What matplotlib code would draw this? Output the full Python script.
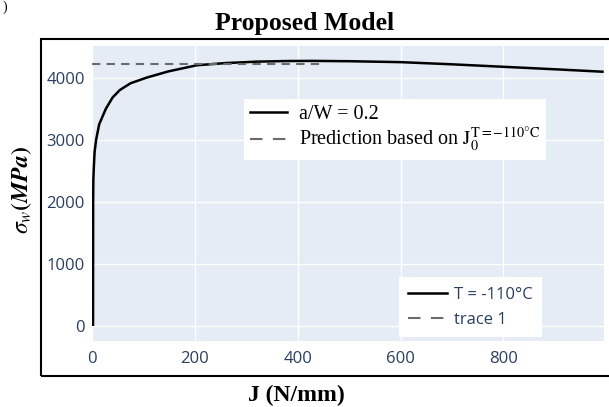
import matplotlib.pyplot as plt
from matplotlib.lines import Line2D
from matplotlib.patches import Rectangle

plt.rcParams['mathtext.fontset'] = 'stix'

# sigma_w vs J curve (T = -110 C)
J = [2, 2.2, 2.6, 3.5, 5, 8, 14, 27, 40, 54, 75, 106, 148, 204, 260,
     320, 380, 430, 500, 600, 700, 800, 900, 995]
sigma_w = [0, 2000, 2350, 2550, 2800, 3000, 3250, 3500, 3680, 3800, 3910,
           4000, 4100, 4200, 4235, 4258, 4268, 4270, 4265, 4250, 4215,
           4175, 4135, 4095]

# prediction from J0 at T = -110 C
pred_J = [0, 450]
pred_sigma = [4215, 4215]

x_ticks = [0, 200, 400, 600, 800]
y_ticks = [0, 1000, 2000, 3000, 4000]

legend1_labels = ['a/W = 0.2',
                  r'Prediction based on $\mathrm{J}_0^{\mathrm{T=-110\degree C}}$']
legend2_labels = ['T = -110°C', 'trace 1']

W, H = 609, 407
fig = plt.figure(figsize=(W / 100, H / 100), dpi=100)
ax = fig.add_axes([91.7 / W, 1 - 341 / H, (603.7 - 91.7) / W, (341 - 46) / H])
ax.set_facecolor('#E5ECF6')

ax.plot(J, sigma_w, color='black', lw=1.8, solid_capstyle='butt')
ax.plot(pred_J, pred_sigma, color='#6a6a6a', lw=1.5, linestyle=(0, (4, 3)))

ax.set_xlim(-0.6, 995)
ax.set_ylim(-242, 4510)
ax.set_xticks(x_ticks)
ax.set_yticks(y_ticks)
ax.grid(True, color='white', lw=1.0)
ax.set_axisbelow(True)
for s in ax.spines.values():
    s.set_visible(False)
ax.tick_params(length=0, labelsize=12, labelcolor='#2a3f5f', pad=5)
for lab in ax.get_xticklabels() + ax.get_yticklabels():
    lab.set_fontfamily('Open Sans')
ax.tick_params(axis='x', pad=7)

# legend handles (dashes a bit longer than on the plotted line)
h1 = Line2D([], [], color='black', lw=1.8)
h2 = Line2D([], [], color='#6a6a6a', lw=1.5, linestyle=(0, (6, 5)))

# legend of the plot itself (lower right)
leg2 = ax.legend([h1, h2], legend2_labels, loc='upper left',
                 bbox_to_anchor=(399 / W, 1 - 277.3 / H), bbox_transform=fig.transFigure,
                 borderaxespad=0, frameon=True, fancybox=False, framealpha=1,
                 facecolor='white', edgecolor='none', borderpad=0.56,
                 labelspacing=0.55, handlelength=2.3, handletextpad=0.42,
                 prop={'family': 'Open Sans', 'size': 12})
for t in leg2.get_texts():
    t.set_color('#2a3f5f')
ax.add_artist(leg2)

# annotation legend (upper middle)
leg1 = ax.legend([h1, h2], legend1_labels, loc='upper left',
                 bbox_to_anchor=(244 / W, 1 - 99 / H), bbox_transform=fig.transFigure,
                 borderaxespad=0, frameon=True, fancybox=False, framealpha=1,
                 facecolor='white', edgecolor='none', borderpad=0.28,
                 labelspacing=0.12, handlelength=1.85, handletextpad=0.62,
                 prop={'family': 'Liberation Serif', 'size': 14.5})

# outer frame around the plotting region
fig.patches.append(Rectangle((41 / W, 1 - 376.3 / H), (620 - 41) / W, (376.3 - 39.3) / H,
                             transform=fig.transFigure, fill=False,
                             edgecolor='black', lw=1.5))

fig.text(305 / W, 1 - 30 / H, 'Proposed Model', ha='center', va='baseline',
         family='Liberation Serif', weight='bold', size=18.5)
fig.text(296.5 / W, 1 - 401 / H, 'J (N/mm)', ha='center', va='baseline',
         family='Liberation Serif', weight='bold', size=17)
fig.text(22 / W, 1 - 190 / H, r'$\boldsymbol{\sigma_w (MPa)}$', ha='center', va='center',
         rotation=90, size=17)
fig.text(5 / W, 1 - 1 / H, ')', ha='center', va='top', size=10,
         family='Liberation Serif')

fig.savefig('out.png', dpi=100)
